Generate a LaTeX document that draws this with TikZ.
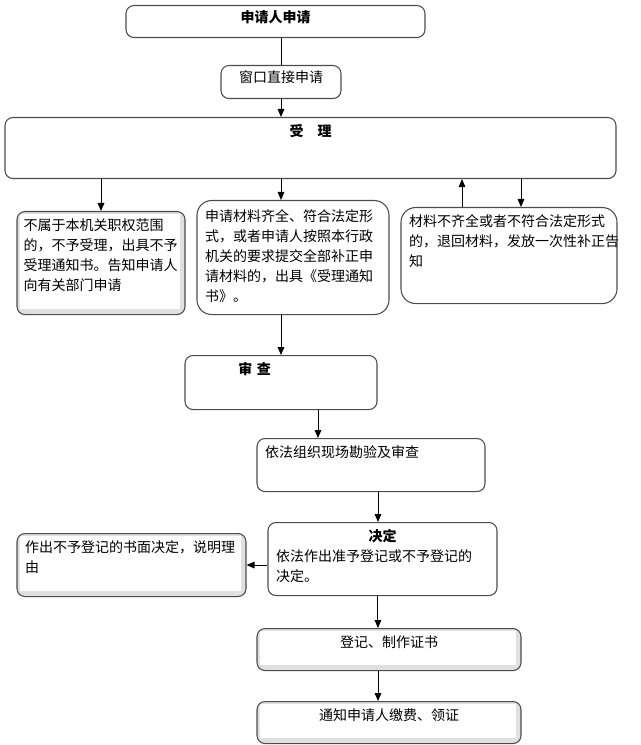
\documentclass[tikz,border=0pt]{standalone}
\usepackage{fontspec}
\setmainfont{Noto Sans CJK SC}
\usetikzlibrary{arrows.meta}

\begin{document}
\begin{tikzpicture}[x=0.75pt,y=-0.75pt,
		stage/.style={draw=black!70,line width=0.8pt,rounded corners=6pt,anchor=north,inner xsep=6pt,inner ysep=5.5pt,text height=9pt,align=left,font=\fontsize{10.5pt}{15pt}\selectfont},
		shaded/.style={path picture={\draw[black!12,line width=6pt,sharp corners] ([shift={(-0.75pt,1pt)}]path picture bounding box.south west) rectangle ([shift={(-0.75pt,1pt)}]path picture bounding box.north east);}},
		arr/.style={-{Triangle[length=6pt,width=5pt]},line width=0.75pt}]
			\useasboundingbox (0,0) rectangle (641,745);
			\node[stage,align=center,inner ysep=4pt,text width=212.25pt,text depth=7pt] (apply) at (275.5,5) {\textbf{申请人申请}};
			\node[stage,align=center,inner ysep=4pt,text width=78pt,text depth=7.75pt] (window) at (281,65) {窗口直接申请};
			\node[stage,align=center,text width=446.25pt,text depth=25.75pt] (accept) at (310.5,117) {\textbf{受　理}};
			\node[stage,shaded,inner xsep=5pt,text width=116pt,text depth=57.25pt] (deny) at (101,211) {不属于本机关职权范围\\的，不予受理，出具不予\\受理通知书。告知申请人\\向有关部门申请};
			\node[stage,rounded corners=11pt,inner ysep=7pt,text width=132pt,text depth=62.5pt] (grant) at (293,200) {申请材料齐全、符合法定形\\式，或者申请人按照本行政\\机关的要求提交全部补正申\\请材料的，出具《受理通知\\书》。};
			\node[stage,rounded corners=11pt,text width=150pt,text depth=52pt] (supply) at (509,207) {材料不齐全或者不符合法定形式\\的，退回材料，发放一次性补正告\\知};
			\node[stage,text width=132pt,text depth=20.5pt] (review) at (281,355) {\hspace*{34pt}\textbf{审 查}};
			\node[stage,text width=159pt,text depth=19.75pt] (survey) at (371,438) {依法组织现场勘验及审查};
			\node[stage,text width=159.75pt,text depth=34.75pt] (decide) at (382.5,522) {\makebox[\hsize]{\textbf{决定}}\\依法作出准予登记或不予登记的\\决定。};
			\node[stage,shaded,text width=159.75pt,text depth=27.25pt] (reject) at (131.5,533) {作出不予登记的书面决定，说明理\\由};
			\node[stage,shaded,align=center,text width=186pt,text depth=11.5pt] (register) at (389,628) {登记、制作证书};
			\node[stage,shaded,align=center,text width=186pt,text depth=11.5pt] (notify) at (389,701) {通知申请人缴费、领证};
			\draw[line width=0.75pt] (window.north |- apply.south) -- (window.north);
			\draw[arr] (window.south) -- (window.south |- accept.north);
			\draw[arr] (deny.north |- accept.south) -- (deny.north);
			\draw[arr] (window.south |- accept.south) -- (window.south |- grant.north);
			\draw[arr] ([xshift=-35.25pt]supply.north) -- ([xshift=-35.25pt]supply.north |- accept.south);
			\draw[arr] ([xshift=9pt]supply.north |- accept.south) -- ([xshift=9pt]supply.north);
			\draw[arr] (review.north |- grant.south) -- (review.north);
			\draw[arr] ([xshift=27.75pt]review.south) -- ([xshift=27.75pt]review.south |- survey.north);
			\draw[arr] ([xshift=5.25pt]survey.south) -- ([xshift=5.25pt]survey.south |- decide.north);
			\draw[arr] (decide.west |- reject.east) -- (reject.east);
			\draw[arr] ([xshift=-3.4pt]decide.south) -- ([xshift=-3.4pt]decide.south |- register.north);
			\draw[arr] ([xshift=-8.25pt]register.south) -- ([xshift=-8.25pt]register.south |- notify.north);
		\end{tikzpicture}
\end{document}
